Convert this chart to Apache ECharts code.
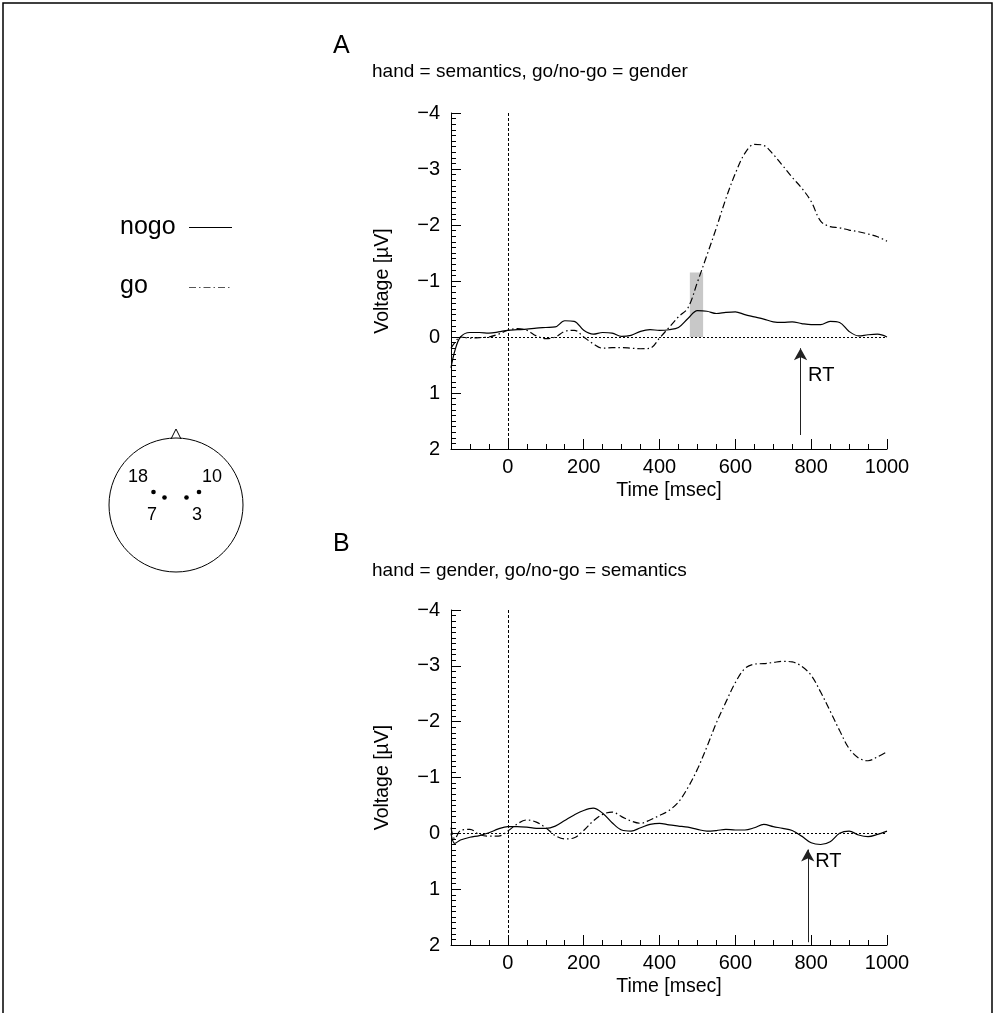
<!DOCTYPE html>
<html><head><meta charset="utf-8">
<script src="https://cdn.jsdelivr.net/npm/echarts@6/dist/echarts.min.js"></script>
<style>html,body{margin:0;padding:0;background:#fff}#c{width:995px;height:1013px}</style>
</head><body><div id="c"></div>
<script>
// ---------- data ----------
const times = [-150,-140,-125,-100,-75,-50,-25,0,25,50,75,100,125,150,175,200,225,250,275,300,325,350,375,400,425,450,475,500,525,550,575,600,625,650,675,700,725,750,775,800,825,850,875,900,925,950,975,1000];
const aNogo = [0.55,0.25,0.0,-0.08,-0.08,-0.07,-0.09,-0.12,-0.13,-0.14,-0.16,-0.17,-0.18,-0.29,-0.28,-0.12,-0.05,-0.08,-0.07,-0.01,-0.03,-0.10,-0.13,-0.12,-0.13,-0.17,-0.33,-0.47,-0.46,-0.42,-0.44,-0.45,-0.40,-0.36,-0.32,-0.27,-0.26,-0.27,-0.24,-0.22,-0.22,-0.28,-0.26,-0.10,-0.02,-0.04,-0.05,0.0];
const aGo   = [0.2,0.1,0.0,0.02,0.01,0.0,-0.05,-0.12,-0.15,-0.12,-0.02,0.03,0.0,-0.10,-0.12,0.0,0.12,0.2,0.19,0.19,0.2,0.21,0.2,0.02,-0.17,-0.36,-0.52,-0.98,-1.46,-1.95,-2.47,-2.92,-3.28,-3.44,-3.42,-3.26,-3.06,-2.85,-2.66,-2.42,-2.07,-1.97,-1.95,-1.91,-1.88,-1.84,-1.79,-1.71];
const bNogo = [0.0,0.18,0.12,0.07,0.04,-0.01,-0.08,-0.12,-0.12,-0.11,-0.09,-0.09,-0.13,-0.23,-0.33,-0.41,-0.45,-0.36,-0.19,-0.06,-0.04,-0.10,-0.16,-0.18,-0.15,-0.13,-0.11,-0.07,-0.04,-0.05,-0.07,-0.06,-0.06,-0.10,-0.16,-0.12,-0.09,-0.05,0.05,0.17,0.20,0.15,0.0,-0.04,0.03,0.06,0.02,-0.04];
const bGo   = [-0.1,0.1,-0.05,-0.07,0.02,0.05,0.05,-0.04,-0.17,-0.24,-0.2,-0.1,0.04,0.1,0.08,-0.05,-0.22,-0.34,-0.38,-0.30,-0.22,-0.18,-0.24,-0.32,-0.41,-0.56,-0.82,-1.15,-1.55,-1.98,-2.35,-2.70,-2.95,-3.03,-3.04,-3.06,-3.08,-3.07,-2.99,-2.83,-2.53,-2.19,-1.84,-1.52,-1.35,-1.30,-1.37,-1.46];
const xMajorTicks = [0,200,400,600,800,1000];
const rtA = 772, rtB = 791;            // reaction time (ms)
const windowA = [480, 515, -1.15];     // shaded window: start, end, height (µV)
const panelTitles = ['hand = semantics, go/no-go = gender', 'hand = gender, go/no-go = semantics'];
const panelLetters = ['A', 'B'];
const seriesNames = ['nogo', 'go'];
const electrodes = ['18', '10', '7', '3'];

// ---------- styling ----------
const F = "'Liberation Sans', Arial, sans-serif";
const TS = 20;
const goDash = [7, 3, 1.5, 3];
const grids = [
  {left: 451, top: 113, width: 436, height: 336},
  {left: 451, top: 113, width: 436, height: 336},
  {left: 451, top: 610, width: 436, height: 335},
  {left: 451, top: 610, width: 436, height: 335}
].map(g => Object.assign({containLabel: false, outerBoundsMode: 'none'}, g));

function xMain(g) {
  return {gridIndex: g, type: 'value', min: -150, max: 1000, interval: 50,
    axisLine: {show: true, onZero: false, lineStyle: {color: '#000', width: 1}},
    axisTick: {show: true, inside: true, length: 5, lineStyle: {color: '#000', width: 1}},
    axisLabel: {show: false}, splitLine: {show: false}};
}
function xOver(g) {
  return {gridIndex: g, type: 'value', min: -150, max: 1000, interval: 50,
    axisLine: {show: false, onZero: false},
    axisTick: {show: true, inside: true, length: 10, customValues: xMajorTicks, lineStyle: {color: '#000', width: 1}},
    axisLabel: {show: true, customValues: xMajorTicks, fontSize: TS, fontFamily: F, color: '#000', margin: 8,
      formatter: v => String(v)},
    splitLine: {show: false},
    name: 'Time [msec]', nameLocation: 'middle', nameGap: 32,
    nameTextStyle: {fontSize: 19.5, fontFamily: F, color: '#000'}};
}
function yMain(g) {
  return {gridIndex: g, type: 'value', min: -4, max: 2, interval: 1, inverse: true,
    axisLine: {show: true, onZero: false, lineStyle: {color: '#000', width: 1}},
    axisTick: {show: true, inside: true, length: 10, lineStyle: {color: '#000', width: 1}},
    minorTick: {show: true, splitNumber: 10, length: 5, lineStyle: {color: '#000', width: 1}},
    splitLine: {show: false}, minorSplitLine: {show: false},
    axisLabel: {fontSize: TS, fontFamily: F, color: '#000', margin: 11,
      formatter: v => v < 0 ? '\u2212' + (-v) : String(v)},
    name: 'Voltage [\u00B5V]', nameLocation: 'middle', nameGap: 58,
    nameTextStyle: {fontSize: 19.5, fontFamily: F, color: '#000'}};
}
function yOver(g) {
  return {gridIndex: g, type: 'value', min: -4, max: 2, inverse: true, show: false};
}

function decor(rt, rtTip, rtBottom, rtLabel, win) {
  const m = {
    markLine: {silent: true, animation: false, symbol: 'none', label: {show: false},
      lineStyle: {type: 'solid', color: '#222', width: 1},
      data: [
        {yAxis: 0, lineStyle: {type: [2, 2], color: '#000', width: 1}},
        {xAxis: 0, lineStyle: {type: [3, 2], color: '#000', width: 1}},
        [{coord: [rt, rtBottom], symbol: 'none'}, {coord: [rt, rtTip], symbol: 'arrow', symbolSize: [10, 12]}]
      ]},
    markPoint: {silent: true, animation: false, symbol: 'circle', symbolSize: 1,
      itemStyle: {color: 'rgba(0,0,0,0)'},
      label: {show: true, position: 'right', distance: 7, formatter: 'RT', fontSize: TS, fontFamily: F, color: '#000'},
      data: [{coord: [rt, rtLabel]}]}
  };
  if (win) {
    m.markArea = {silent: true, animation: false, itemStyle: {color: '#c8c8c8'},
      data: [[{coord: [win[0], win[2]]}, {coord: [win[1], 0]}]]};
  }
  return m;
}

function lineSeries(name, vals, xi, yi, dashed, extra) {
  return Object.assign({
    type: 'line', name: name, xAxisIndex: xi, yAxisIndex: yi,
    data: times.map((t, i) => [t, vals[i]]),
    symbol: 'none', smooth: 0.35, animation: false, z: dashed ? 3 : 4,
    lineStyle: {color: '#000', width: 1.2, type: dashed ? goDash : 'solid'}
  }, extra || {});
}

// ---------- graphics (titles, legend, head) ----------
const graphic = [
  {type: 'rect', shape: {x: 3, y: 3, width: 989, height: 1030}, style: {fill: 'none', stroke: '#000', lineWidth: 1.5}, silent: true},
  {type: 'text', x: 333, y: 46, style: {text: panelLetters[0], font: '25px ' + F, fill: '#000', verticalAlign: 'middle'}},
  {type: 'text', x: 372, y: 72, style: {text: panelTitles[0], font: '19px ' + F, fill: '#000', verticalAlign: 'middle'}},
  {type: 'text', x: 333, y: 544, style: {text: panelLetters[1], font: '25px ' + F, fill: '#000', verticalAlign: 'middle'}},
  {type: 'text', x: 372, y: 571, style: {text: panelTitles[1], font: '19px ' + F, fill: '#000', verticalAlign: 'middle'}},
  // legend
  {type: 'text', x: 120, y: 227, style: {text: seriesNames[0], font: '25px ' + F, fill: '#000', verticalAlign: 'middle'}},
  {type: 'line', shape: {x1: 189, y1: 227.5, x2: 232, y2: 227.5}, style: {stroke: '#000', lineWidth: 1.2}},
  {type: 'text', x: 120, y: 286, style: {text: seriesNames[1], font: '25px ' + F, fill: '#000', verticalAlign: 'middle'}},
  {type: 'line', shape: {x1: 189, y1: 287.5, x2: 232, y2: 287.5}, style: {stroke: '#555', lineWidth: 1.2, lineDash: goDash}},
  // head
  {type: 'circle', shape: {cx: 176, cy: 505, r: 67}, style: {fill: 'none', stroke: '#000', lineWidth: 1}},
  {type: 'polyline', shape: {points: [[171, 439], [176, 429], [181, 439]]}, style: {fill: 'none', stroke: '#000', lineWidth: 1}},
  {type: 'circle', shape: {cx: 153.5, cy: 492, r: 2.3}, style: {fill: '#000'}},
  {type: 'circle', shape: {cx: 164.5, cy: 497.5, r: 2.3}, style: {fill: '#000'}},
  {type: 'circle', shape: {cx: 186.5, cy: 497.5, r: 2.3}, style: {fill: '#000'}},
  {type: 'circle', shape: {cx: 199, cy: 492, r: 2.3}, style: {fill: '#000'}},
  {type: 'text', x: 138, y: 477, style: {text: electrodes[0], font: '18px ' + F, fill: '#000', align: 'center', verticalAlign: 'middle'}},
  {type: 'text', x: 212, y: 477, style: {text: electrodes[1], font: '18px ' + F, fill: '#000', align: 'center', verticalAlign: 'middle'}},
  {type: 'text', x: 152, y: 515, style: {text: electrodes[2], font: '18px ' + F, fill: '#000', align: 'center', verticalAlign: 'middle'}},
  {type: 'text', x: 197, y: 515, style: {text: electrodes[3], font: '18px ' + F, fill: '#000', align: 'center', verticalAlign: 'middle'}}
];

const option = {
  backgroundColor: '#fff',
  animation: false,
  grid: grids,
  xAxis: [xMain(0), xOver(1), xMain(2), xOver(3)],
  yAxis: [yMain(0), yOver(1), yMain(2), yOver(3)],
  series: [
    lineSeries(seriesNames[0], aNogo, 0, 0, false, decor(rtA, 0.2, 1.75, 0.69, windowA)),
    lineSeries(seriesNames[1], aGo, 0, 0, true),
    lineSeries(seriesNames[0], bNogo, 2, 2, false, decor(rtB, 0.29, 1.95, 0.5, null)),
    lineSeries(seriesNames[1], bGo, 2, 2, true)
  ],
  graphic: graphic
};
const chart = echarts.init(document.getElementById('c'), null, {renderer: 'canvas'});
chart.setOption(option);
</script></body></html>
